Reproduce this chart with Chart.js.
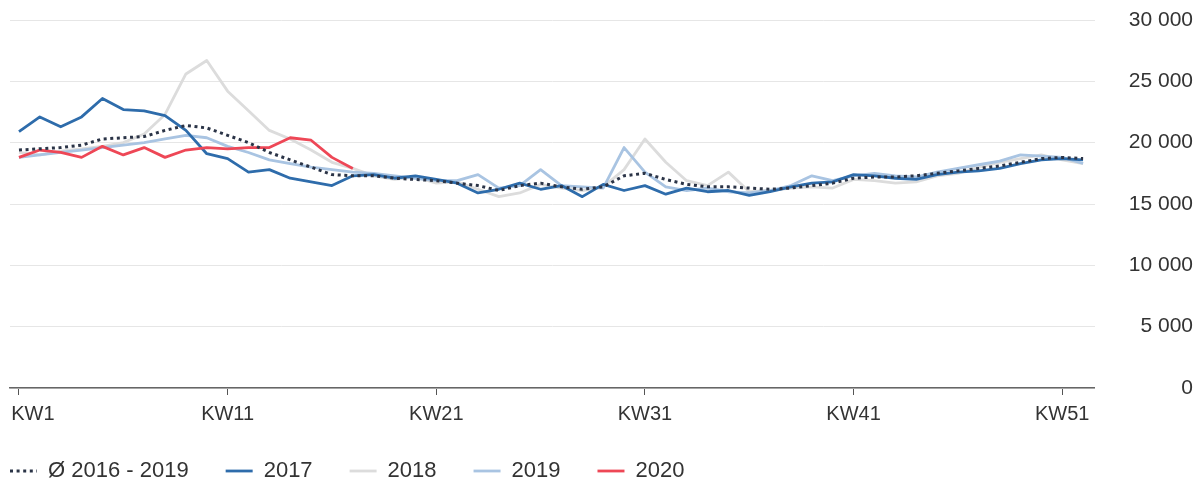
<!DOCTYPE html>
<html>
<head>
<meta charset="utf-8">
<script src="https://cdn.jsdelivr.net/npm/chart.js@4"></script>
<style>
  html, body { margin: 0; padding: 0; background: #fff; }
  #wrap { width: 1204px; height: 481px; }
</style>
</head>
<body>
<div id="wrap"><canvas id="chart" width="1204" height="481"></canvas></div>
<script>
const weeks = [1, 2, 3, 4, 5, 6, 7, 8, 9, 10, 11, 12, 13, 14, 15, 16, 17, 18, 19, 20,
  21, 22, 23, 24, 25, 26, 27, 28, 29, 30, 31, 32, 33, 34, 35, 36, 37, 38, 39, 40,
  41, 42, 43, 44, 45, 46, 47, 48, 49, 50, 51, 52];
const weekTicks = [1, 11, 21, 31, 41, 51];
const yTicks = [0, 5000, 10000, 15000, 20000, 25000, 30000];

const avg1619 = [19400, 19500, 19600, 19800, 20300, 20400, 20500, 21000, 21400, 21200,
  20600, 20000, 19200, 18600, 18000, 17400, 17300, 17300, 17100, 17000,
  16900, 16700, 16500, 16100, 16500, 16700, 16400, 16200, 16400, 17300,
  17500, 17000, 16600, 16400, 16400, 16300, 16200, 16300, 16500, 16700,
  17100, 17200, 17200, 17300, 17500, 17700, 17900, 18100, 18400, 18700,
  18800, 18700];
const y2017 = [20900, 22100, 21300, 22100, 23600, 22700, 22600, 22200, 21000, 19100,
  18700, 17600, 17800, 17100, 16800, 16500, 17300, 17400, 17100, 17300,
  17000, 16700, 15900, 16200, 16700, 16200, 16500, 15600, 16600, 16100,
  16500, 15800, 16300, 16000, 16100, 15700, 16000, 16400, 16700, 16800,
  17400, 17300, 17100, 17000, 17400, 17600, 17700, 17900, 18300, 18600,
  18700, 18600];
const y2018 = [19200, 19000, 19300, 19500, 19700, 20000, 20700, 22300, 25600, 26700,
  24200, 22600, 21000, 20300, 19400, 18400, 17900, 17300, 17000, 17200,
  16700, 16800, 16200, 15600, 15900, 16600, 16300, 16100, 16400, 17800,
  20300, 18400, 16900, 16500, 17600, 16000, 16100, 16300, 16400, 16300,
  17000, 16900, 16700, 16800, 17300, 17500, 18000, 18400, 18700, 19000,
  18600, 18300];
const y2019 = [18800, 19000, 19200, 19400, 19600, 19800, 20000, 20300, 20600, 20400,
  19700, 19200, 18600, 18300, 18000, 17800, 17600, 17500, 17300, 17100,
  16900, 16900, 17400, 16300, 16500, 17800, 16500, 16400, 16300, 19600,
  17600, 16400, 16100, 16300, 16000, 15900, 16100, 16500, 17300, 16900,
  17300, 17500, 17300, 17200, 17600, 17900, 18200, 18500, 19000, 18900,
  18800, 18300];
const y2020 = [18800, 19400, 19200, 18800, 19700, 19000, 19600, 18800, 19400, 19600,
  19500, 19600, 19600, 20400, 20200, 18800, 17900];

const fontFamily = "'Liberation Sans', Arial, Helvetica, sans-serif";

const fmt = (v) => String(v).replace(/\B(?=(\d{3})+(?!\d))/g, " ");

// move the legend row to where the reference has it
const legendShift = {
  id: "legendShift",
  afterLayout(chart) {
    const lg = chart.legend;
    if (!lg) return;
    lg.left -= 37;
    lg.top -= 9;
  },
};

const ctx = document.getElementById("chart").getContext("2d");

new Chart(ctx, {
  type: "line",
  data: {
    labels: weeks,
    datasets: [
      {
        label: "Ø 2016 - 2019",
        data: avg1619,
        borderColor: "#2b3447",
        borderWidth: 3,
        borderDash: [3, 3.6],
        order: 0,
      },
      { label: "2017", data: y2017, borderColor: "#2e6cab", borderWidth: 2.8, order: 2 },
      { label: "2018", data: y2018, borderColor: "#dcdcdc", borderWidth: 2.8, order: 4 },
      { label: "2019", data: y2019, borderColor: "#a9c4e2", borderWidth: 2.8, order: 3 },
      { label: "2020", data: y2020, borderColor: "#ee4756", borderWidth: 2.8, order: 1 },
    ],
  },
  options: {
    responsive: false,
    animation: false,
    layout: { padding: { left: 10, right: 11, top: 20, bottom: 0 } },
    elements: {
      point: { radius: 0 },
      line: { tension: 0, borderJoinStyle: "round", fill: false },
    },
    scales: {
      x: {
        type: "linear",
        min: 0.57,
        max: 52.56,
        afterBuildTicks: (scale) => {
          scale.ticks = weekTicks.map((v) => ({ value: v }));
        },
        afterFit: (scale) => {
          scale.paddingLeft = 0;
          scale.paddingRight = 0;
          scale.height = 44;
        },
        ticks: {
          autoSkip: false,
          maxRotation: 0,
          padding: 7,
          color: "#333",
          font: { family: fontFamily, size: 20 },
          callback: (v) => (v === 1 ? "     KW1" : "KW" + v),
        },
        grid: {
          drawOnChartArea: false,
          drawTicks: true,
          tickLength: 7,
          color: "#555",
          lineWidth: 1,
        },
        border: { display: true, color: "#666", width: 1.5 },
      },
      y: {
        position: "right",
        min: 0,
        max: 30000,
        afterBuildTicks: (scale) => {
          scale.ticks = yTicks.map((v) => ({ value: v }));
        },
        afterFit: (scale) => {
          scale.paddingTop = 0;
          scale.paddingBottom = 0;
        },
        ticks: {
          padding: 17,
          crossAlign: "far",
          color: "#333",
          font: { family: fontFamily, size: 21 },
          callback: (v) => fmt(v),
        },
        grid: { color: "#e6e6e6", lineWidth: 1, drawTicks: false },
        border: { display: false },
      },
    },
    plugins: {
      legend: {
        position: "bottom",
        align: "start",
        maxHeight: 49,
        labels: {
          usePointStyle: true,
          pointStyle: "line",
          pointStyleWidth: 27,
          padding: 37,
          color: "#333",
          font: { family: fontFamily, size: 22 },
          sort: (a, b) => a.datasetIndex - b.datasetIndex,
          generateLabels: (chart) =>
            Chart.defaults.plugins.legend.labels.generateLabels(chart).map((item) => {
              const ds = chart.data.datasets[item.datasetIndex];
              item.lineDash = ds.borderDash || [];
              item.lineWidth = ds.borderDash ? 3 : 2.8;
              item.strokeStyle = ds.borderColor;
              return item;
            }),
        },
      },
      tooltip: { enabled: false },
    },
  },
  plugins: [legendShift],
});
</script>
</body>
</html>
